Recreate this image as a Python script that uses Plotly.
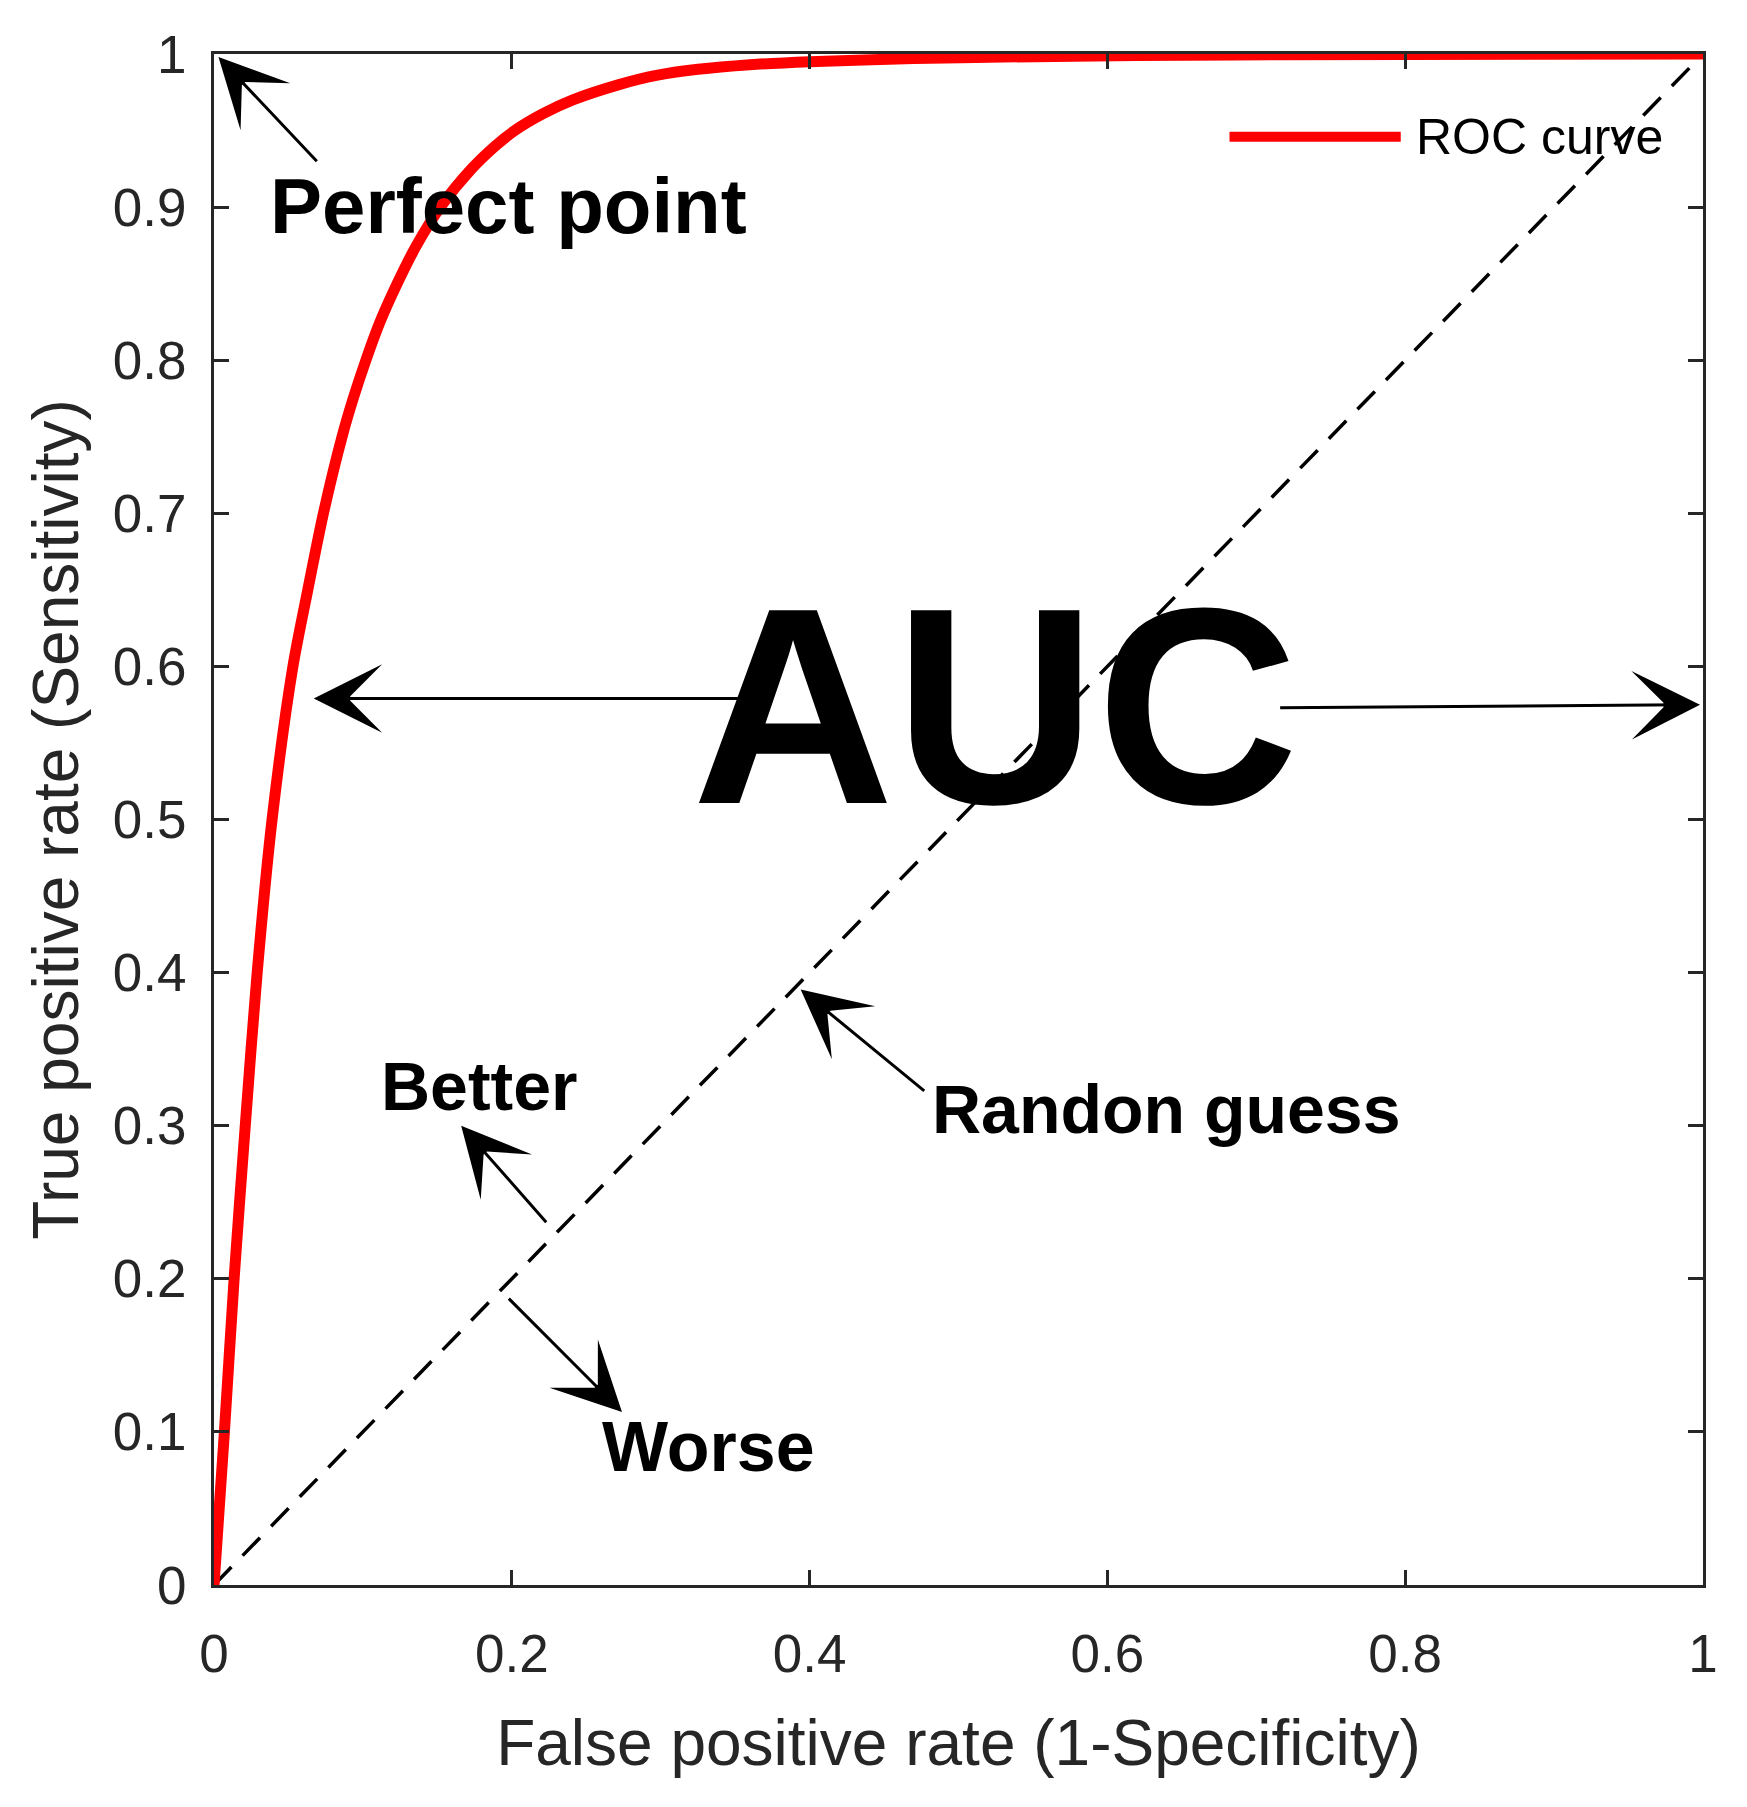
import plotly.graph_objects as go

# ROC curve
fpr = [0, 0.007, 0.0135, 0.021, 0.029, 0.039, 0.053, 0.063, 0.0735, 0.086, 0.0935,
       0.102, 0.1115, 0.123, 0.136, 0.152, 0.173, 0.189, 0.202, 0.221, 0.241,
       0.272, 0.297, 0.325, 0.36, 0.40, 0.47, 0.53, 0.62, 0.72, 1.0]
tpr = [0, 0.10, 0.20, 0.30, 0.40, 0.50, 0.60, 0.65, 0.70, 0.75, 0.775,
       0.80, 0.825, 0.85, 0.875, 0.90, 0.925, 0.94, 0.95, 0.961, 0.97,
       0.98, 0.986, 0.99, 0.993, 0.995, 0.997, 0.998, 0.999, 0.9995, 1.0]

# random guess diagonal
diag_x = [0, 1]
diag_y = [0, 1]

x_ticks = [0, 0.2, 0.4, 0.6, 0.8, 1]
x_ticklabels = ["0", "0.2", "0.4", "0.6", "0.8", "1"]
y_ticks = [0, 0.1, 0.2, 0.3, 0.4, 0.5, 0.6, 0.7, 0.8, 0.9, 1]
y_ticklabels = ["0", "0.1", "0.2", "0.3", "0.4", "0.5", "0.6", "0.7", "0.8", "0.9", "1"]

AXC = "#262626"
FONT = "Arial, Liberation Sans, Helvetica, sans-serif"

fig = go.Figure()

fig.add_trace(go.Scatter(
    x=diag_x, y=diag_y, mode="lines",
    line=dict(color="black", width=3.5, dash="25px,16px"),
    showlegend=False, hoverinfo="skip"
))
fig.add_trace(go.Scatter(
    x=fpr, y=tpr, mode="lines", name="ROC curve",
    line=dict(color="#ff0000", width=11, shape="spline", smoothing=0.8),
    cliponaxis=False, showlegend=False
))

# arrows: (head x, head y, tail x, tail y)
arrows = [
    (0.003, 0.998, 0.070, 0.929),
    (0.067, 0.579, 0.355, 0.579),
    (0.998, 0.575, 0.715, 0.573),
    (0.166, 0.300, 0.224, 0.236),
    (0.274, 0.113, 0.197, 0.188),
    (0.394, 0.389, 0.478, 0.322),
]
for hx, hy, tx, ty in arrows:
    fig.add_annotation(
        x=hx, y=hy, ax=tx, ay=ty, xref="x", yref="y", axref="x", ayref="y",
        text="", showarrow=True, arrowhead=3, arrowsize=3.8, arrowwidth=3,
        arrowcolor="black", standoff=0
    )

labels = [
    ("Perfect point", 0.036, 0.901, 78, "left"),
    ("Better", 0.111, 0.326, 68, "left"),
    ("Worse", 0.259, 0.090, 70, "left"),
    ("Randon guess", 0.481, 0.311, 68, "left"),
    ("AUC", 0.525, 0.574, 280, "center"),
]
for txt, x, y, size, anchor in labels:
    fig.add_annotation(
        x=x, y=y, xref="x", yref="y", text="<b>%s</b>" % txt, showarrow=False,
        xanchor=anchor, yanchor="middle",
        font=dict(family=FONT, size=size, color="black")
    )

# legend drawn by hand so the line sample is long like the original
fig.add_shape(type="line", xref="paper", yref="paper",
              x0=0.682, x1=0.797, y0=0.946, y1=0.946,
              line=dict(color="#ff0000", width=10))
fig.add_annotation(x=0.806, y=0.946, xref="paper", yref="paper",
                   text="ROC curve", showarrow=False, xanchor="left",
                   yanchor="middle", font=dict(family=FONT, size=50, color="black"))

axis_common = dict(
    showgrid=False, zeroline=False, showline=True, linecolor=AXC, linewidth=3,
    mirror="ticks", ticks="inside", ticklen=15, tickwidth=3, tickcolor=AXC,
    tickfont=dict(family=FONT, size=53, color=AXC), automargin=False,
)

fig.update_layout(
    width=1747, height=1807,
    paper_bgcolor="white", plot_bgcolor="white",
    margin=dict(l=206, r=52, t=46, b=230),
    xaxis=dict(range=[0, 1], tickvals=x_ticks, ticktext=x_ticklabels,
               ticklabelstandoff=20,
               title=dict(text="False positive rate (1-Specificity)", standoff=39,
                          font=dict(family=FONT, size=64, color=AXC)),
               **axis_common),
    yaxis=dict(range=[0, 1], tickvals=y_ticks, ticktext=y_ticklabels,
               ticklabelstandoff=14,
               title=dict(text="True positive rate (Sensitivity)", standoff=14,
                          font=dict(family=FONT, size=64, color=AXC)),
               **axis_common),
    showlegend=False,
)

fig.write_html("out.html")
